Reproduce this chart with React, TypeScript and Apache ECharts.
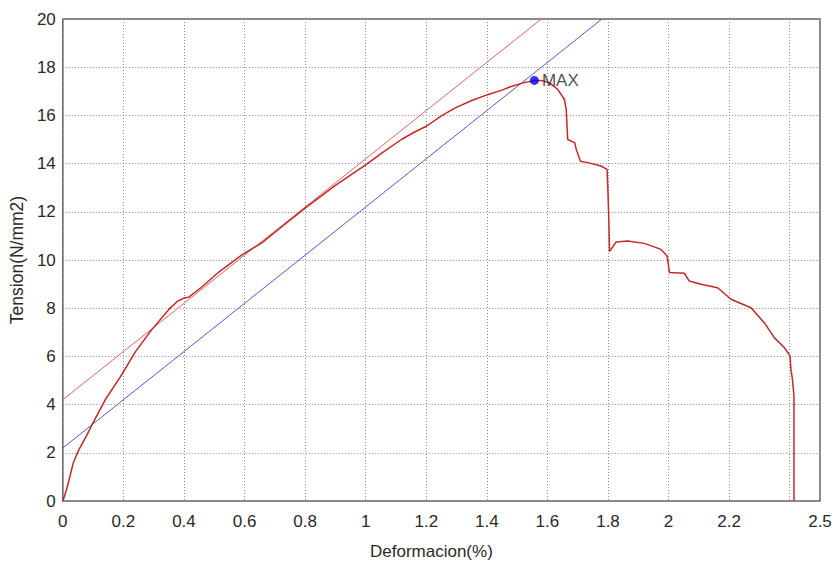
import React, { useEffect, useRef } from "react";
import * as echarts from "echarts";

// Measured stress-strain curve: [Deformacion(%), Tension(N/mm2)]
const curveData: [number, number][] = [
  [0, 0], [0.013, 0.5], [0.024, 1.05], [0.035, 1.6], [0.052, 2.1], [0.079, 2.72],
  [0.101, 3.27], [0.14, 4.2], [0.19, 5.15], [0.24, 6.2], [0.293, 7.1], [0.35, 7.95],
  [0.38, 8.3], [0.4, 8.42], [0.415, 8.45], [0.458, 8.87], [0.515, 9.5], [0.59, 10.2],
  [0.656, 10.7], [0.72, 11.35], [0.8, 12.15], [0.9, 13.1], [1.0, 13.95], [1.06, 14.5],
  [1.118, 15.0], [1.16, 15.3], [1.2, 15.55], [1.25, 15.98], [1.294, 16.3], [1.35, 16.62],
  [1.4, 16.85], [1.45, 17.05], [1.48, 17.2], [1.52, 17.35], [1.557, 17.45],
  [1.58, 17.45], [1.606, 17.36], [1.634, 17.08], [1.656, 16.67], [1.662, 16.25],
  [1.665, 15.5], [1.667, 15.0], [1.69, 14.87], [1.695, 14.6], [1.709, 14.1],
  [1.733, 14.04], [1.777, 13.9], [1.797, 13.76], [1.8, 12.8], [1.803, 11.5],
  [1.805, 10.35], [1.81, 10.44], [1.827, 10.75], [1.865, 10.79], [1.92, 10.69],
  [1.975, 10.44], [1.995, 10.17], [2.003, 9.48], [2.052, 9.45], [2.068, 9.13],
  [2.107, 8.99], [2.162, 8.85], [2.206, 8.37], [2.272, 8.02], [2.316, 7.4],
  [2.349, 6.78], [2.382, 6.37], [2.401, 6.02], [2.404, 5.47], [2.409, 5.05],
  [2.414, 4.36], [2.414, 0],
];

// Reference lines (slope 10 N/mm2 per %)
const redLine: [number, number][] = [[0, 4.2], [1.58, 20]];
const blueLine: [number, number][] = [[0, 2.2], [1.78, 20]];

const maxPoint: [number, number][] = [[1.557, 17.45]];
const maxLabel = "MAX";

const xName = "Deformacion(%)";
const yName = "Tension(N/mm2)";

export default function App() {
  const ref = useRef<HTMLDivElement>(null);
  useEffect(() => {
    if (!ref.current) return;
    const chart = echarts.init(ref.current, undefined, { renderer: "svg" });
    const font = "'Liberation Sans', Arial, sans-serif";
    const textColor = "#2a2a2a";
    chart.setOption({
      animation: false,
      backgroundColor: "#ffffff",
      textStyle: { fontFamily: font },
      grid: {
        left: 61,
        right: 17,
        top: 19,
        bottom: 63,
        show: true,
        borderColor: "#666",
        borderWidth: 1.5,
        backgroundColor: "transparent",
      },
      xAxis: {
        type: "value",
        min: 0,
        max: 2.5,
        interval: 0.2,
        name: xName,
        nameLocation: "middle",
        nameGap: 42,
        nameTextStyle: { fontSize: 17, color: textColor, fontFamily: font, padding: [0, 20, 0, 0] },
        axisLine: { show: false },
        axisTick: { show: false },
        axisLabel: {
          fontSize: 17,
          color: textColor,
          fontFamily: font,
          margin: 12,
          formatter: (v: number) => (Math.abs(v - 2.4) < 1e-6 ? "" : String(Math.round(v * 10) / 10)),
        },
        splitLine: { show: true, lineStyle: { color: "#8c8c8c", type: [1, 2], width: 1 } },
      },
      yAxis: {
        type: "value",
        min: 0,
        max: 20,
        interval: 2,
        name: yName,
        nameLocation: "middle",
        nameGap: 35,
        nameTextStyle: { fontSize: 17.5, color: textColor, fontFamily: font },
        axisLine: { show: false },
        axisTick: { show: false },
        axisLabel: { fontSize: 17, color: textColor, fontFamily: font, margin: 7 },
        splitLine: { show: true, lineStyle: { color: "#8c8c8c", type: [1, 2], width: 1 } },
      },
      series: [
        {
          type: "line",
          data: redLine,
          showSymbol: false,
          lineStyle: { color: "#e06666", width: 1 },
          z: 2,
        },
        {
          type: "line",
          data: blueLine,
          showSymbol: false,
          lineStyle: { color: "#5555dd", width: 1 },
          z: 2,
        },
        {
          type: "line",
          data: curveData,
          showSymbol: false,
          lineStyle: { color: "#c62828", width: 1.5 },
          z: 3,
        },
        {
          type: "scatter",
          data: maxPoint,
          symbol: "circle",
          symbolSize: 9,
          itemStyle: { color: "#0000ee" },
          label: {
            show: true,
            position: "right",
            distance: 3,
            formatter: maxLabel,
            fontSize: 17,
            color: "#222",
            fontFamily: font,
          },
          z: 4,
        },
      ],
    });
    return () => chart.dispose();
  }, []);
  return <div ref={ref} style={{ width: 837, height: 565, position: "absolute", left: 0, top: 0 }} />;
}
